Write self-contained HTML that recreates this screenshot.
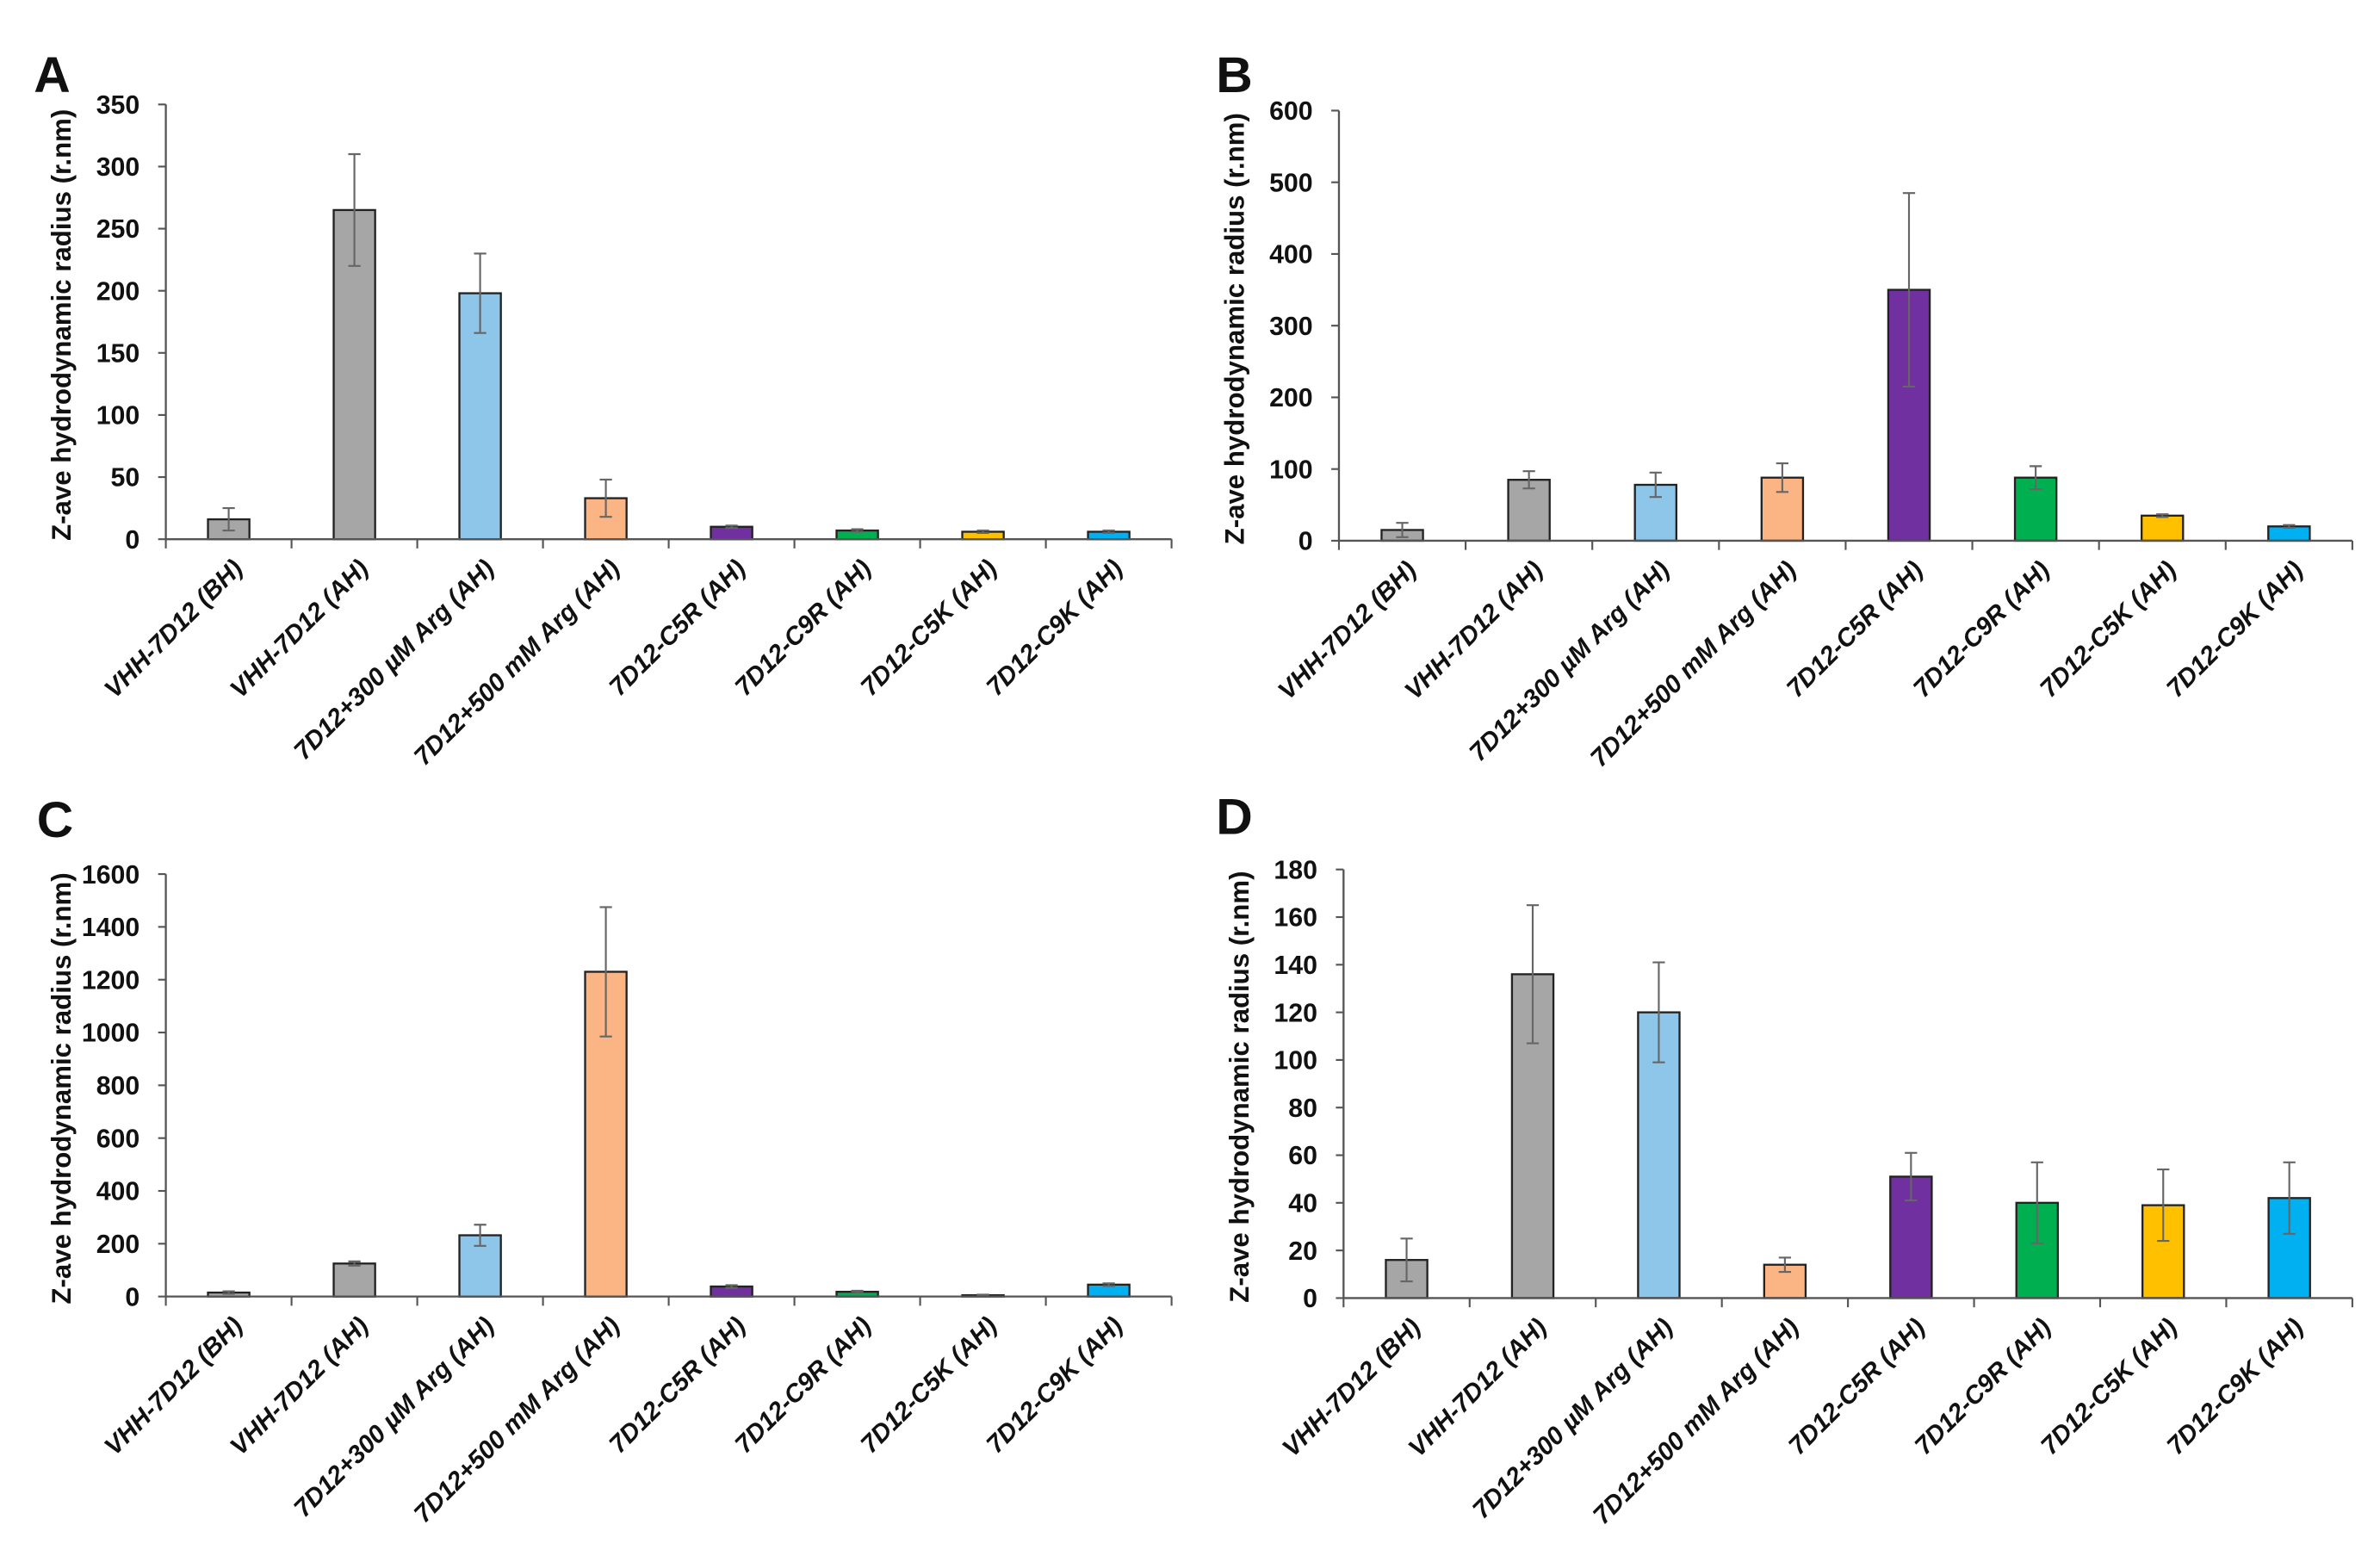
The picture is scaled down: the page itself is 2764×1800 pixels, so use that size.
<!DOCTYPE html>
<html><head><meta charset="utf-8"><style>
html,body{margin:0;padding:0;background:#fff;}
svg{display:block;}
text{font-family:"Liberation Sans",sans-serif;fill:#111;}
</style></head><body>
<svg id="fig" width="2764" height="1800" viewBox="0 0 1550 1009" preserveAspectRatio="none" xmlns="http://www.w3.org/2000/svg"></svg>
<script>
const categories = ["VHH-7D12 (BH)","VHH-7D12 (AH)","7D12+300 µM Arg (AH)","7D12+500 mM Arg (AH)","7D12-C5R (AH)","7D12-C9R (AH)","7D12-C5K (AH)","7D12-C9K (AH)"];
const barColors = ["#a6a6a6","#a6a6a6","#8ec6ea","#fbb584","#7030a0","#00b050","#ffc000","#00b0f0"];
const valuesA = [16,265,198,33,10,7,6,6];
const errorsA = [9,45,32,15,1,1,1,1];
const ticksA = [0,50,100,150,200,250,300,350];
const valuesB = [15,85,78,88,350,88,35,20];
const errorsB = [10,12,17,20,135,16,2,2];
const ticksB = [0,100,200,300,400,500,600];
const valuesC = [15,125,232,1230,38,18,5,45];
const errorsC = [5,8,40,245,5,4,2,5];
const ticksC = [0,200,400,600,800,1000,1200,1400,1600];
const valuesD = [16,136,120,14,51,40,39,42];
const errorsD = [9,29,21,3,10,17,15,15];
const ticksD = [0,20,40,60,80,100,120,140,160,180];

const NS="http://www.w3.org/2000/svg";
const svg=document.getElementById('fig');
function mk(tag,attrs,parent){const e=document.createElementNS(NS,tag);for(const k in attrs)e.setAttribute(k,attrs[k]);(parent||svg).appendChild(e);return e;}

function panel(id,letter,lx,ly,x0,x1,yTop,yBot,vals,errs,ticks){
  const g=mk('g',{});
  
  
  const max=ticks[ticks.length-1];
  const y=v=>yBot-(v/max)*(yBot-yTop);
  const step=(x1-x0)/vals.length;
  const xc=i=>x0+step*(i+0.5);
  const L=mk('text',{x:lx,y:ly,'font-size':33,'font-weight':'bold'},g);L.textContent=letter;
  
  
  const t=mk('text',{x:0,y:0,'font-size':17.5,'font-weight':'bold','text-anchor':'middle',transform:`translate(${x0-62},${(yTop+yBot)/2+2}) rotate(-90)`},g);
  t.textContent='Z-ave hydrodynamic radius (r.nm)';
  
  
  const ya=mk('line',{x1:x0,y1:yTop,x2:x0,y2:yBot,stroke:'#555','stroke-width':1.3},g);
  
  
  ticks.forEach(v=>{
    mk('line',{x1:x0-5,y1:y(v),x2:x0,y2:y(v),stroke:'#555','stroke-width':1.2},g);
    const tl=mk('text',{x:x0-17,y:y(v)+6,'font-size':17,'font-weight':'bold','text-anchor':'end'},g);
    tl.textContent=v;
    
    
  });
  vals.forEach((v,i)=>{
    const bw=27;
    const r=mk('rect',{x:xc(i)-bw/2,y:y(v),width:bw,height:yBot-y(v),fill:barColors[i],stroke:'#222','stroke-width':1.3},g);
    
    
    const e=errs[i];
    const eb=mk('path',{d:`M${xc(i)},${y(v-e)}V${y(v+e)}M${xc(i)-4},${y(v+e)}H${xc(i)+4}M${xc(i)-4},${y(v-e)}H${xc(i)+4}`,stroke:'#666','stroke-width':1.2,fill:'none'},g);
    
    
  });
  const xa=mk('line',{x1:x0,y1:yBot,x2:x1,y2:yBot,stroke:'#555','stroke-width':1.3},g);
  
  
  for(let i=0;i<=vals.length;i++) mk('line',{x1:x0+step*i,y1:yBot,x2:x0+step*i,y2:yBot+6,stroke:'#555','stroke-width':1.2},g);
  categories.forEach((c,i)=>{
    const cl=mk('text',{x:0,y:0,'font-size':16.5,'font-weight':'bold','font-style':'italic','text-anchor':'end',transform:`translate(${xc(i)+10},${yBot+20}) rotate(-45)`},g);
    cl.textContent=c;
    
    
  });
}
panel('a','A',22,60,108,763,68,351,valuesA,errorsA,ticksA);
panel('b','B',792,60,872,1532,72,352,valuesB,errorsB,ticksB);
panel('c','C',24,545,108,763,569,844,valuesC,errorsC,ticksC);
panel('d','D',792,543,875,1532,566,845,valuesD,errorsD,ticksD);
</script>
</body></html>
